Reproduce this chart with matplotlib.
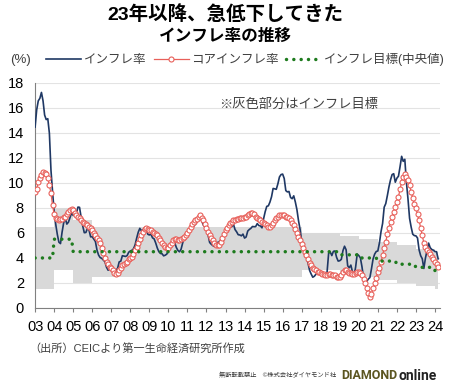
import numpy as np
import matplotlib
matplotlib.use("Agg")
import matplotlib.pyplot as plt
from matplotlib.lines import Line2D

plt.rcParams['font.family'] = ['Liberation Sans', 'Noto Sans CJK JP', 'DejaVu Sans']

# monthly, Jan 2003 - Mar 2024
headline = [
    14.47, 15.85, 16.57, 16.77, 17.24, 16.57, 15.43, 15.07, 15.14, 13.98, 11.02, 9.30,
    7.71, 6.69, 5.89, 5.26, 5.15, 6.06, 6.81, 7.18, 6.71, 6.86, 7.24, 7.60,
    7.41, 7.39, 7.54, 8.07, 8.05, 7.27, 6.57, 6.02, 6.04, 6.36, 6.22, 5.69,
    5.70, 5.51, 5.32, 4.63, 4.23, 4.03, 3.97, 3.84, 3.70, 3.26, 3.02, 3.14,
    2.99, 3.02, 2.96, 3.00, 3.18, 3.69, 3.74, 4.18, 4.15, 4.12, 4.19, 4.46,
    4.56, 4.61, 4.73, 5.04, 5.58, 6.06, 6.37, 6.17, 6.25, 6.41, 6.39, 5.90,
    5.84, 5.90, 5.61, 5.53, 5.20, 4.80, 4.50, 4.36, 4.34, 4.17, 4.22, 4.31,
    4.59, 4.83, 5.17, 5.26, 5.22, 4.84, 4.60, 4.49, 4.70, 5.20, 5.63, 5.91,
    5.99, 6.01, 6.30, 6.51, 6.55, 6.71, 6.87, 7.23, 7.31, 6.97, 6.64, 6.50,
    6.22, 5.85, 5.24, 5.10, 4.99, 4.92, 5.20, 5.24, 5.28, 5.45, 5.53, 5.84,
    6.15, 6.31, 6.59, 6.49, 6.50, 6.70, 6.27, 6.09, 5.86, 5.84, 5.77, 5.91,
    5.59, 5.68, 6.15, 6.28, 6.37, 6.52, 6.50, 6.51, 6.75, 6.59, 6.56, 6.41,
    7.14, 7.70, 8.13, 8.17, 8.47, 8.89, 9.56, 9.53, 9.49, 9.93, 10.48, 10.67,
    10.71, 10.36, 9.39, 9.28, 9.32, 8.84, 8.74, 8.97, 8.48, 7.87, 6.99, 6.29,
    5.35, 4.76, 4.57, 4.08, 3.60, 3.00, 2.71, 2.46, 2.54, 2.70, 2.80, 2.95,
    2.86, 2.84, 2.68, 2.76, 2.86, 4.39, 4.48, 4.19, 4.53, 4.56, 4.05, 3.75,
    3.78, 3.89, 4.58, 4.94, 4.66, 3.37, 3.22, 3.43, 2.89, 2.54, 3.27, 4.31,
    4.19, 4.01, 3.30, 2.40, 1.88, 2.13, 2.31, 2.44, 3.14, 3.92, 4.31, 4.52,
    4.56, 5.20, 6.10, 6.76, 8.06, 8.35, 8.99, 9.68, 10.25, 10.67, 10.74, 10.06,
    10.38, 10.54, 11.30, 12.13, 11.73, 11.89, 10.07, 8.73, 7.17, 6.47, 5.90, 5.79,
    5.77, 5.60, 4.65, 4.18, 3.94, 3.16, 3.99, 4.61, 5.19, 4.82, 4.68, 4.62,
    4.51, 4.50, 3.93,
]

core = [
    9.3, 9.5, 10.1, 10.4, 10.6, 10.9, 10.8, 10.7, 10.4, 9.8, 9.2, 8.2,
    7.5, 7.2, 7.1, 7.0, 7.1, 7.1, 7.3, 7.3, 7.5, 7.7, 7.8, 7.9,
    7.8, 7.6, 7.4, 7.3, 7.2, 7.0, 6.9, 6.8, 6.7, 6.6, 6.5, 6.4,
    6.2, 6.0, 5.8, 5.6, 5.4, 5.2, 4.8, 4.4, 4.0, 3.7, 3.5, 3.3,
    3.2, 3.0, 2.8, 2.7, 2.8, 3.0, 3.2, 3.4, 3.5, 3.6, 3.7, 3.9,
    4.0, 4.1, 4.3, 4.6, 4.9, 5.2, 5.5, 5.8, 6.1, 6.3, 6.4, 6.3,
    6.2, 6.2, 6.1, 6.0, 5.9, 5.8, 5.6, 5.4, 5.2, 5.0, 4.9, 4.8,
    4.8, 5.0, 5.2, 5.4, 5.5, 5.5, 5.4, 5.4, 5.5, 5.6, 5.7, 5.8,
    6.0, 6.2, 6.5, 6.7, 6.9, 7.0, 7.1, 7.3, 7.4, 7.2, 7.0, 6.7,
    6.4, 6.1, 5.8, 5.6, 5.4, 5.2, 5.0, 5.0, 5.0, 5.3, 5.6, 5.9,
    6.2, 6.4, 6.6, 6.8, 6.9, 7.0, 7.0, 7.1, 7.1, 7.2, 7.2, 7.2,
    7.3, 7.3, 7.4, 7.5, 7.6, 7.6, 7.5, 7.3, 7.2, 7.1, 7.0, 6.9,
    6.8, 6.7, 6.6, 6.5, 6.5, 6.6, 6.8, 7.0, 7.2, 7.3, 7.4, 7.4,
    7.4, 7.4, 7.3, 7.3, 7.2, 7.0, 6.8, 6.6, 6.3, 6.0, 5.7, 5.4,
    5.1, 4.8, 4.5, 4.2, 3.9, 3.6, 3.4, 3.2, 3.1, 3.0, 2.9, 2.9,
    2.8, 2.7, 2.7, 2.6, 2.6, 2.7, 2.7, 2.6, 2.6, 2.6, 2.5, 2.5,
    2.5, 2.6, 2.9, 3.0, 3.0, 2.9, 2.8, 2.8, 2.7, 2.7, 2.8, 2.9,
    2.9, 2.8, 2.6, 2.3, 2.0, 1.6, 1.2, 0.9, 1.1, 1.6, 2.0, 2.4,
    2.9, 3.2, 3.7, 4.2, 4.8, 5.3, 5.9, 6.4, 6.9, 7.3, 7.7, 8.1,
    8.5, 8.9, 9.5, 10.1, 10.5, 10.7, 10.5, 10.2, 9.8, 9.3, 8.8, 8.3,
    8.0, 7.5, 7.0, 6.4, 5.8, 5.2, 4.9, 4.6, 4.5, 4.3, 4.1, 3.9,
    3.7, 3.5, 3.3,
]

# inflation target (mid) and tolerance, by year 2003-2024
years = list(range(2003, 2025))
target_mid = [4.0, 5.5, 4.5, 4.5, 4.5, 4.5, 4.5, 4.5, 4.5, 4.5, 4.5,
              4.5, 4.5, 4.5, 4.5, 4.5, 4.25, 4.0, 3.75, 3.5, 3.25, 3.0]
target_tol = [2.5, 2.5, 2.5, 2.0, 2.0, 2.0, 2.0, 2.0, 2.0, 2.0, 2.0,
              2.0, 2.0, 2.0, 1.5, 1.5, 1.5, 1.5, 1.5, 1.5, 1.5, 1.5]
xlabels = ['%02d' % (y % 100) for y in years]

n = len(headline)
t = 2003 + np.arange(n) / 12.0
yr_idx = np.arange(n) // 12
mid = np.array(target_mid)[yr_idx]
tol = np.array(target_tol)[yr_idx]

fig = plt.figure(figsize=(4.5, 3.84), dpi=100)
ax = fig.add_axes([0.078, 0.198, 0.9, 0.586])

ax.fill_between(t, mid - tol, mid + tol, step='post', color='#d9d9d9', lw=0, zorder=1)
ax.plot(t, headline, color='#1f3864', lw=1.2, zorder=3)
ax.plot(t, core, color='#e8605a', lw=0.9, marker='o', ms=3.6, mfc='white',
        mec='#e8605a', mew=0.8, zorder=4)
ax.plot(t, mid, color='#1e7b1e', lw=2.5, linestyle=(0, (0.01, 2.1)),
        dash_capstyle='round', zorder=5)

ax.set_xlim(2003, 2024.27)
ax.set_ylim(0, 18)
ax.set_yticks(range(0, 19, 2))
ax.set_xticks(years)
ax.set_xticklabels(xlabels)
ax.tick_params(axis='x', length=3, width=0.8, color='#808080', labelsize=10.5, pad=6)
ax.tick_params(axis='y', length=0, labelsize=10.5, pad=8)
ax.grid(axis='y', color='#e3e3e3', lw=0.8, zorder=0)
ax.set_axisbelow(True)
for s in ['top', 'right']:
    ax.spines[s].set_visible(False)
for s in ['left', 'bottom']:
    ax.spines[s].set_color('#808080')
    ax.spines[s].set_linewidth(0.8)

ax.text(0.455, 0.905, '※灰色部分はインフレ目標', transform=ax.transAxes,
        fontsize=9.5, color='#404040', ha='left', va='center')

fig.text(0.5, 0.962, '23年以降、急低下してきた', ha='center', va='center',
         fontsize=14, fontweight='bold')
fig.text(0.5, 0.905, 'インフレ率の推移', ha='center', va='center',
         fontsize=12, fontweight='bold')
fig.text(0.022, 0.845, '(%)', ha='left', va='center', fontsize=9.5, color='#404040')

handles = [
    Line2D([], [], color='#1f3864', lw=1.2),
    Line2D([], [], color='#e8605a', lw=0.9, marker='o', ms=3.6, mfc='white', mew=0.8),
    Line2D([], [], color='#1e7b1e', lw=2.5, linestyle=(0, (0.01, 2.1)), dash_capstyle='round'),
]
labels = ['インフレ率', 'コアインフレ率', 'インフレ目標(中央値)']
leg = fig.legend(handles, labels, loc='center', bbox_to_anchor=(0.545, 0.845), ncol=3,
                 frameon=False, fontsize=9, handlelength=2.8, handletextpad=0.2,
                 columnspacing=0.6, borderpad=0)
for txt in leg.get_texts():
    txt.set_color('#404040')

fig.text(0.065, 0.093, '（出所）CEICより第一生命経済研究所作成', ha='left', va='center',
         fontsize=8, color='#404040')
fig.text(0.748, 0.022, '無断転載禁止　©株式会社ダイヤモンド社', ha='right', va='center',
         fontsize=4.5, color='#333333')
fig.text(0.758, 0.022, 'DIAMOND', ha='left', va='center', fontsize=9,
         fontweight='bold', color='#5b5520', family=['Roboto', 'DejaVu Sans'])
fig.text(0.885, 0.022, 'online', ha='left', va='center', fontsize=10,
         fontweight='bold', color='#222222', family=['Roboto', 'DejaVu Sans'])

fig.savefig('out.png', dpi=100)
